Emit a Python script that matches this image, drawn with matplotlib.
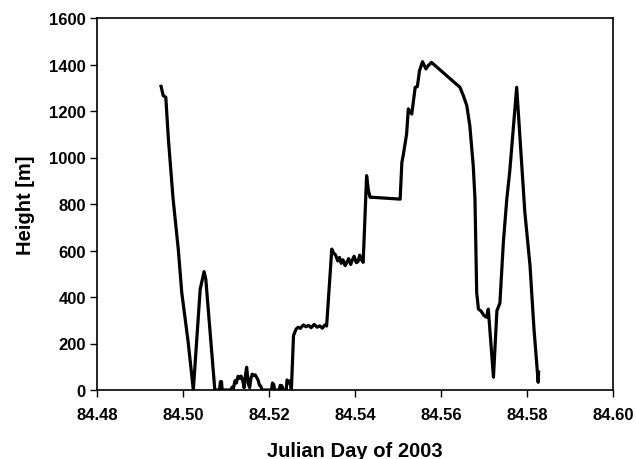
import matplotlib
matplotlib.use("Agg")
import matplotlib.pyplot as plt

julian_day = [84.4949, 84.4954, 84.4960, 84.4966, 84.4977, 84.4989, 84.4997, 84.5012, 84.5024,
              84.5040, 84.5049, 84.5053, 84.5063, 84.5074,
              84.5085, 84.5087, 84.50895, 84.5091, 84.5111, 84.5114, 84.5117, 84.5121, 84.5124,
              84.5128, 84.5132, 84.5135, 84.5139, 84.5142, 84.5145, 84.5148, 84.5150, 84.5152,
              84.5155, 84.5158, 84.5161, 84.5165, 84.5168, 84.5172, 84.5175, 84.5178, 84.5181,
              84.5184, 84.5206, 84.5208, 84.5211, 84.5213, 84.5224, 84.5226, 84.5230, 84.5233,
              84.5240, 84.5242, 84.5246, 84.5249, 84.5252,
              84.5257, 84.5263, 84.5268, 84.5273, 84.5280, 84.5286, 84.5292, 84.5298, 84.5305,
              84.5312, 84.5318, 84.5324, 84.5330, 84.5334,
              84.5346, 84.5350, 84.5355, 84.5360, 84.5364, 84.5368, 84.5372, 84.5377, 84.5381,
              84.5385, 84.5390, 84.5394, 84.5398, 84.5403, 84.5407, 84.5411, 84.5415, 84.5419,
              84.5427, 84.5431, 84.5435, 84.5439, 84.5505,
              84.5509, 84.5512, 84.5520, 84.5524, 84.5532, 84.5540, 84.5545, 84.5550,
              84.5557, 84.5565, 84.5570, 84.5578, 84.5644, 84.5652, 84.5660, 84.5667,
              84.5675, 84.5679, 84.5683, 84.5687, 84.5693, 84.5700, 84.5706, 84.5710, 84.5722,
              84.5730, 84.5737, 84.5745, 84.5753, 84.5760, 84.5776, 84.5795, 84.5807, 84.5816,
              84.5826, 84.5827]
height_m = [1306, 1266, 1259, 1080, 821, 606, 421, 206, 0,
            434, 509, 477, 248, 0,
            0, 36, 36, 0, 0, 12, 5, 40, 30,
            59, 50, 60, 40, 10, 60, 98, 60, 25,
            10, 50, 68, 62, 65, 52, 40, 20, 17,
            0, 0, 30, 25, 0, 0, 20, 18, 0,
            0, 43, 30, 40, 0,
            234, 262, 270, 265, 280, 272, 278, 268, 282,
            270, 276, 266, 280, 275,
            606, 590, 580, 555, 570, 545, 560, 535, 548,
            565, 540, 560, 575, 548, 552, 580, 560, 549,
            922, 860, 829, 829, 821,
            979, 1008, 1100, 1209, 1187, 1302, 1305, 1373,
            1412, 1381, 1395, 1409, 1302, 1266, 1223, 1137,
            965, 821, 420, 348, 340, 320, 313, 348, 55,
            341, 374, 635, 821, 943, 1302, 764, 535, 269,
            33, 77]

plt.rcParams['font.family'] = ['Liberation Sans', 'DejaVu Sans']
plt.rcParams['font.weight'] = 'bold'

fig = plt.figure(figsize=(6.36, 4.6), dpi=100)
ax = fig.add_axes([97/636, (460-391)/460, (613-97)/636, (391-19)/460])
ax.plot(julian_day, height_m, color='black', lw=2.3, solid_joinstyle='round')
ax.set_xlim(84.48, 84.60)
ax.set_ylim(0, 1600)
ax.set_xticks([84.48, 84.50, 84.52, 84.54, 84.56, 84.58, 84.60])
ax.set_xticklabels(['84.48', '84.50', '84.52', '84.54', '84.56', '84.58', '84.60'])
ax.set_yticks(range(0, 1601, 200))
ax.tick_params(axis='both', direction='out', length=5, width=1, labelsize=12)
ax.tick_params(axis='x', pad=7)
ax.tick_params(axis='y', pad=3)
ax.tick_params(top=False, right=False)
for lab in ax.get_xticklabels() + ax.get_yticklabels():
    lab.set_fontweight('bold')
for s in ax.spines.values():
    s.set_linewidth(1.2)
ax.set_xlabel('Julian Day of 2003', fontsize=14.5, fontweight='bold', labelpad=14)
ax.set_ylabel('Height [m]', fontsize=14.5, fontweight='bold', labelpad=10)
fig.savefig('out.png', dpi=100)
